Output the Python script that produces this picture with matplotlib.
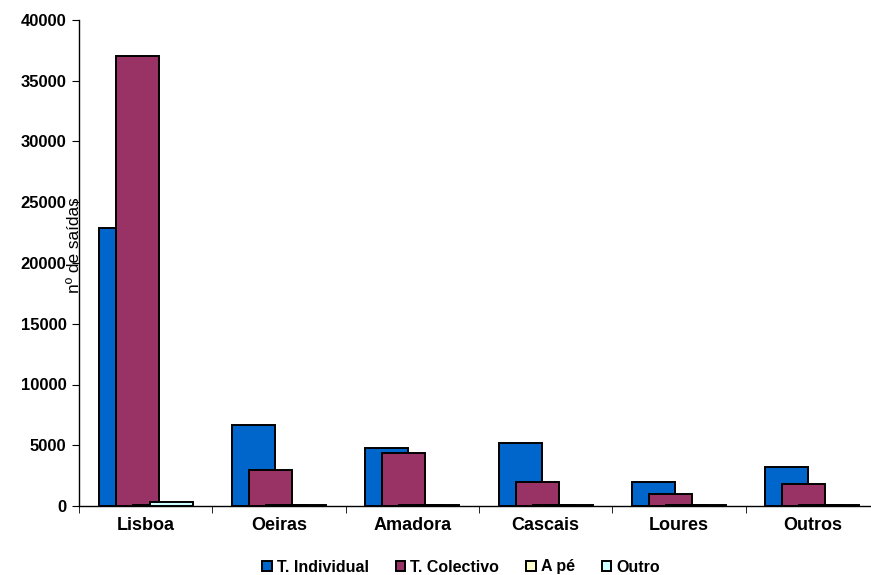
import matplotlib.pyplot as plt
import numpy as np

# dados (nº de saídas por concelho e modo)
concelhos = ['Lisboa', 'Oeiras', 'Amadora', 'Cascais', 'Loures', 'Outros']
individual = [22900, 6650, 4800, 5150, 1950, 3250]
colectivo = [37000, 2950, 4350, 1950, 950, 1850]
a_pe = [100, 80, 80, 80, 80, 80]
outro = [350, 90, 90, 90, 90, 90]

series = [individual, colectivo, a_pe, outro]
nomes = ['T. Individual', 'T. Colectivo', 'A pé', 'Outro']
cores = ['#0066CC', '#993366', '#FFFFCC', '#CCFFFF']

plt.rcParams['font.family'] = ['Liberation Sans', 'DejaVu Sans']

fig = plt.figure(figsize=(8.71, 5.75), dpi=100)
ax = fig.add_axes([79/871, 69/575, 800/871, 486/575])

x = np.arange(len(concelhos))
largura = 0.322
passo = 0.1275
desl = (np.arange(4) - 1.5) * passo

for i in range(4):
    ax.bar(x + desl[i], series[i], largura, color=cores[i], edgecolor='black',
           linewidth=1.4, label=nomes[i], zorder=2 + i)

ax.set_xlim(-0.5, 5.5)
ax.set_ylim(0, 40000)
ax.set_yticks(np.arange(0, 40001, 5000))
ax.set_yticklabels([str(v) for v in range(0, 40001, 5000)], fontsize=12, fontweight='bold')

ax.set_xticks(x)
ax.set_xticklabels(concelhos, fontsize=13, fontweight='bold')
ax.set_xticks(np.arange(-0.5, 6, 1), minor=True)
ax.tick_params(axis='x', which='major', length=0, pad=8)
ax.tick_params(axis='x', which='minor', length=5, direction='out')
ax.tick_params(axis='y', length=5, direction='out', pad=4)

for s in ['top', 'right']:
    ax.spines[s].set_visible(False)
ax.spines['left'].set_linewidth(1.0)
ax.spines['bottom'].set_linewidth(1.0)

# o título do eixo fica por cima do eixo, como no original
ax.set_ylabel('nº de saídas', fontsize=12.4)
ax.yaxis.set_label_coords(0.004, 0.537)

fig.legend(loc='center', bbox_to_anchor=(461/871, 8/575), ncol=4, frameon=False,
           prop={'size': 11.5, 'weight': 'bold'}, handlelength=0.6, handleheight=0.6,
           handletextpad=0.3, columnspacing=1.7, borderpad=0)

fig.savefig('out.png', dpi=100)
